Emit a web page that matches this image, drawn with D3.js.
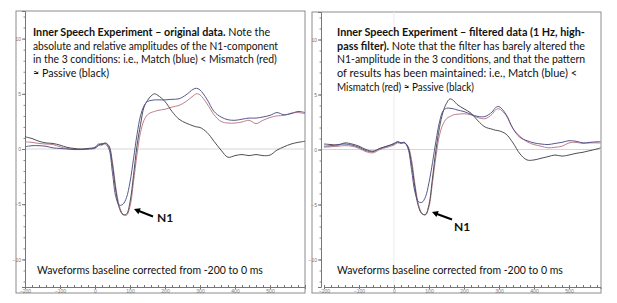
<!DOCTYPE html>
<html>
<head>
<meta charset="utf-8">
<script src="https://cdn.jsdelivr.net/npm/d3@7"></script>
<style>
  html, body { margin: 0; padding: 0; background: #fff; }
  svg { display: block; }
  .tick text { font-family: "Liberation Sans", Arial, sans-serif; }
</style>
</head>
<body>
<div id="chart"></div>
<script>
// ---- data (µV vs ms) ----
const xTicks = [-200, -100, 0, 100, 200, 300, 400, 500]
const yTicks = [10, 5, 0, -5, -10]

const timesLeft = [-200,-180,-160,-140,-120,-100,-80,-60,-40,-20,
  0,10,20,30,40,50,60,70,80,90,100,110,120,130,140,150,160,170,180,
  200,220,240,260,280,290,300,320,340,360,380,400,420,440,460,480,500,520,540,560,580,600]

const matchLeft = [0.2,0.3,0.3,0.25,0.1,0.05,0,-0.05,-0.05,0,
  0.1,0.35,0.5,0.45,0.0,-2.2,-4.4,-5.1,-5.0,-4.4,-3.0,-0.9,1.3,3.0,3.9,4.3,4.4,4.45,4.45,
  4.45,4.5,4.55,4.9,5.4,5.5,5.35,4.5,3.4,2.9,2.65,2.6,2.7,2.8,2.8,2.9,3.05,3.3,3.1,3.2,3.4,3.3]

const mismatchLeft = [0.65,0.6,0.5,0.45,0.4,0.2,0.05,0,-0.05,0,
  0.05,0.3,0.35,0.5,0.3,-1.2,-3.6,-5.2,-5.9,-6.0,-5.2,-3.0,-0.5,1.5,2.6,3.1,3.3,3.4,3.5,
  3.6,3.8,3.95,4.3,4.8,5.0,4.9,4.1,3.1,2.5,2.35,2.35,2.45,2.6,2.3,2.6,2.85,3.0,3.05,3.25,3.3,3.2]

const passiveLeft = [1.1,0.95,0.7,0.55,0.5,0.35,0.15,0.05,0,0.05,
  0.15,0.45,0.4,0.55,0.2,-1.5,-3.9,-5.4,-5.95,-5.9,-4.8,-2.4,0.3,2.2,3.8,4.4,4.8,5.0,4.85,
  4.3,3.4,2.7,2.35,2.1,2.0,1.95,1.5,0.7,-0.1,-0.75,-0.6,-0.5,-0.6,-0.5,-0.6,-0.55,-0.1,0.2,0.45,0.6,0.7]

const timesRight = [-200,-180,-160,-140,-120,-100,-80,-60,-40,-20,
  0,10,20,30,40,50,60,70,80,90,100,110,120,130,140,150,160,170,180,
  200,220,240,260,280,290,300,320,340,360,380,400,420,440,460,480,500,520,540,560,580,590]

const matchRight = [0.3,0.35,0.45,0.5,0.4,0.2,-0.1,-0.2,0.1,0.3,
  0.5,0.7,0.6,0.65,0.1,-1.8,-3.9,-4.75,-4.8,-4.3,-3.0,-1.2,0.8,2.5,3.5,3.75,3.75,3.7,3.6,
  3.45,3.2,3.0,3.0,3.4,3.8,3.9,3.2,1.9,1.1,0.8,0.6,0.5,0.45,0.55,0.65,0.8,0.75,0.6,0.65,0.7,0.7]

const mismatchRight = [0.2,0.25,0.3,0.35,0.3,0.1,-0.2,-0.3,0,0.2,
  0.4,0.6,0.55,0.6,0.3,-0.9,-3.2,-5.0,-5.8,-5.95,-5.2,-3.0,-0.6,1.3,2.3,2.8,3.0,3.15,3.2,
  3.25,3.15,2.9,2.8,3.2,3.6,3.7,3.1,1.9,1.2,0.7,0.45,0.3,0.15,0.2,0.3,0.6,0.65,0.55,0.6,0.6,0.6]

const passiveRight = [0.5,0.45,0.4,0.6,0.5,0.3,0,-0.15,0.1,0.3,
  0.55,0.7,0.6,0.6,0.2,-1.3,-3.5,-5.2,-5.85,-5.9,-5.0,-2.6,0,2.0,3.4,4.2,4.6,4.45,4.1,
  3.7,3.3,2.6,2.05,1.85,1.75,1.7,1.4,0.6,-0.4,-0.95,-0.95,-0.8,-0.65,-0.5,-0.6,-0.5,-0.35,-0.25,-0.1,0.05,0.15]

const textLeft = [
  [["Inner Speech Experiment \u2013 original data.", true], [" Note the", false]],
  [["absolute and relative amplitudes of the N1-component", false]],
  [["in the 3 conditions: i.e., Match (blue) < Mismatch (red)", false]],
  [["\u2248 Passive (black)", false]]
]
const textRight = [
  [["Inner Speech Experiment \u2013 filtered data (1 Hz, high-", true]],
  [["pass filter).", true], [" Note that the filter has barely altered the", false]],
  [["N1-amplitude in the 3 conditions, and that the pattern", false]],
  [["of results has been maintained: i.e., Match (blue) <", false]],
  [["Mismatch (red) \u2248 Passive (black)", false]]
]
const footNote = "Waveforms baseline corrected from -200 to 0 ms"

const colors = {match: "#4e4f88", mismatch: "#b97985", passive: "#44444e"}

// ---- drawing ----
const svg = d3.select("#chart").append("svg")
  .attr("width", 617).attr("height", 303)

// squeeze a text line horizontally to the width seen in the picture
function fitText(t, x, y, w) {
  const nat = t.node().getComputedTextLength()
  const s = w / nat
  t.attr("transform", "translate(" + x + "," + y + ") scale(" + s + ",1)")
}

function drawPanel(p) {
  const g = svg.append("g")

  // frame
  g.append("rect")
    .attr("x", p.frame[0]).attr("y", p.frame[1])
    .attr("width", p.frame[2] - p.frame[0]).attr("height", p.frame[3] - p.frame[1])
    .attr("fill", "#fff").attr("stroke", "#8c8c8c").attr("stroke-width", 1)

  const x = d3.scaleLinear().domain(p.xDomain).range(p.xRange)
  const y = d3.scaleLinear().domain([-12.5, 12.5]).range([287, p.frame[1]])

  // faint zero lines
  g.append("line")
    .attr("x1", p.axisX).attr("x2", p.xRange[1])
    .attr("y1", y(0)).attr("y2", y(0))
    .attr("stroke", "#d6d6d6").attr("stroke-width", 1)
  if (p.zeroV) {
    g.append("line")
      .attr("x1", x(0)).attr("x2", x(0))
      .attr("y1", y(12.5)).attr("y2", y(-12.5))
      .attr("stroke", "#ececec").attr("stroke-width", 1)
  }

  // x axis: minor + major ticks
  g.append("g")
    .attr("transform", "translate(0,287)")
    .call(d3.axisTop(x).tickValues(d3.range(-200, p.xDomain[1] + 1, 20)).tickSize(2).tickFormat(""))
    .call(a => a.select(".domain").remove())
    .selectAll("line").attr("stroke", "#777")
  g.append("g")
    .attr("transform", "translate(0,287)")
    .call(d3.axisBottom(x).tickValues(xTicks).tickSize(2).tickPadding(0.5))
    .call(a => a.select(".domain").attr("stroke", "#777"))
    .call(a => a.selectAll("line").attr("stroke", "#777"))
    .call(a => a.selectAll("text").attr("fill", "#777").style("font-size", "5px"))

  // y axis
  g.append("g")
    .attr("transform", "translate(" + p.axisX + ",0)")
    .call(d3.axisLeft(y).tickValues(d3.range(-12, 13, 1)).tickSize(1.5).tickFormat(""))
    .call(a => a.select(".domain").remove())
    .selectAll("line").attr("stroke", "#888")
  g.append("g")
    .attr("transform", "translate(" + p.axisX + ",0)")
    .call(d3.axisLeft(y).tickValues(yTicks).tickSize(3).tickPadding(1))
    .call(a => a.select(".domain").attr("stroke", "#777"))
    .call(a => a.selectAll("line").attr("stroke", "#777"))
    .call(a => a.selectAll("text").attr("fill", "#777").style("font-size", "5px"))

  // waveforms
  const line = d3.line()
    .curve(d3.curveCatmullRom.alpha(0.5))
    .x((d, i) => x(p.times[i]))
    .y(d => y(d))
  const order = [["mismatch", p.mismatch], ["passive", p.passive], ["match", p.match]]
  order.forEach(([k, vals]) => {
    g.append("path")
      .datum(vals)
      .attr("fill", "none")
      .attr("stroke", colors[k])
      .attr("stroke-width", 0.95)
      .attr("stroke-linejoin", "round")
      .attr("d", line)
  })

  // description text
  p.text.forEach((parts, i) => {
    const t = g.append("text")
      .style("font-family", "Lato, 'Open Sans', sans-serif")
      .style("font-size", "11.2px")
      .attr("fill", "#111")
    parts.forEach(([s, bold]) => {
      t.append("tspan").text(s).attr("font-weight", bold ? "700" : "400")
    })
    fitText(t, p.textX, 36.3 + i * 13.55, p.textW[i])
  })

  // footnote
  const f = g.append("text")
    .style("font-family", "Lato, 'Open Sans', sans-serif")
    .style("font-size", "12px")
    .attr("fill", "#111")
    .text(footNote)
  fitText(f, p.textX + p.footDx, 273.5, 226)

  // N1 arrow + label
  g.append("line")
    .attr("x1", p.arrow[2]).attr("y1", p.arrow[3])
    .attr("x2", p.arrow[0] + 3).attr("y2", p.arrow[1] + 1.2)
    .attr("stroke", "#000").attr("stroke-width", 2)
  const ang = Math.atan2(p.arrow[1] - p.arrow[3], p.arrow[0] - p.arrow[2])
  const hx = p.arrow[0], hy = p.arrow[1], L = 6, W = 3.2
  const bx = hx - L * Math.cos(ang), by = hy - L * Math.sin(ang)
  g.append("path")
    .attr("d", "M" + hx + "," + hy +
      "L" + (bx - W * Math.sin(ang)) + "," + (by + W * Math.cos(ang)) +
      "L" + (bx + W * Math.sin(ang)) + "," + (by - W * Math.cos(ang)) + "Z")
    .attr("fill", "#000")
  g.append("text")
    .attr("x", p.n1[0]).attr("y", p.n1[1])
    .style("font-family", "Lato, 'Open Sans', sans-serif")
    .style("font-size", "12px").style("font-weight", "700")
    .attr("fill", "#111")
    .text("N1")
}

drawPanel({
  frame: [16, 11, 305, 293],
  axisX: 25,
  xDomain: [-200, 600], xRange: [25, 305],
  times: timesLeft, match: matchLeft, mismatch: mismatchLeft, passive: passiveLeft,
  text: textLeft, textX: 33, textW: [237, 245, 244, 76], footDx: 4,
  arrow: [134, 209, 153, 216.5],
  n1: [157, 221.5],
  zeroV: false
})

drawPanel({
  frame: [312, 12, 601, 293],
  axisX: 321,
  xDomain: [-200, 590], xRange: [324, 600.5],
  times: timesRight, match: matchRight, mismatch: mismatchRight, passive: passiveRight,
  text: textRight, textX: 337, textW: [248, 248, 248, 240, 137], footDx: 0,
  arrow: [432, 212, 452, 219.5],
  n1: [454, 230.5],
  zeroV: true
})
</script>
</body>
</html>
